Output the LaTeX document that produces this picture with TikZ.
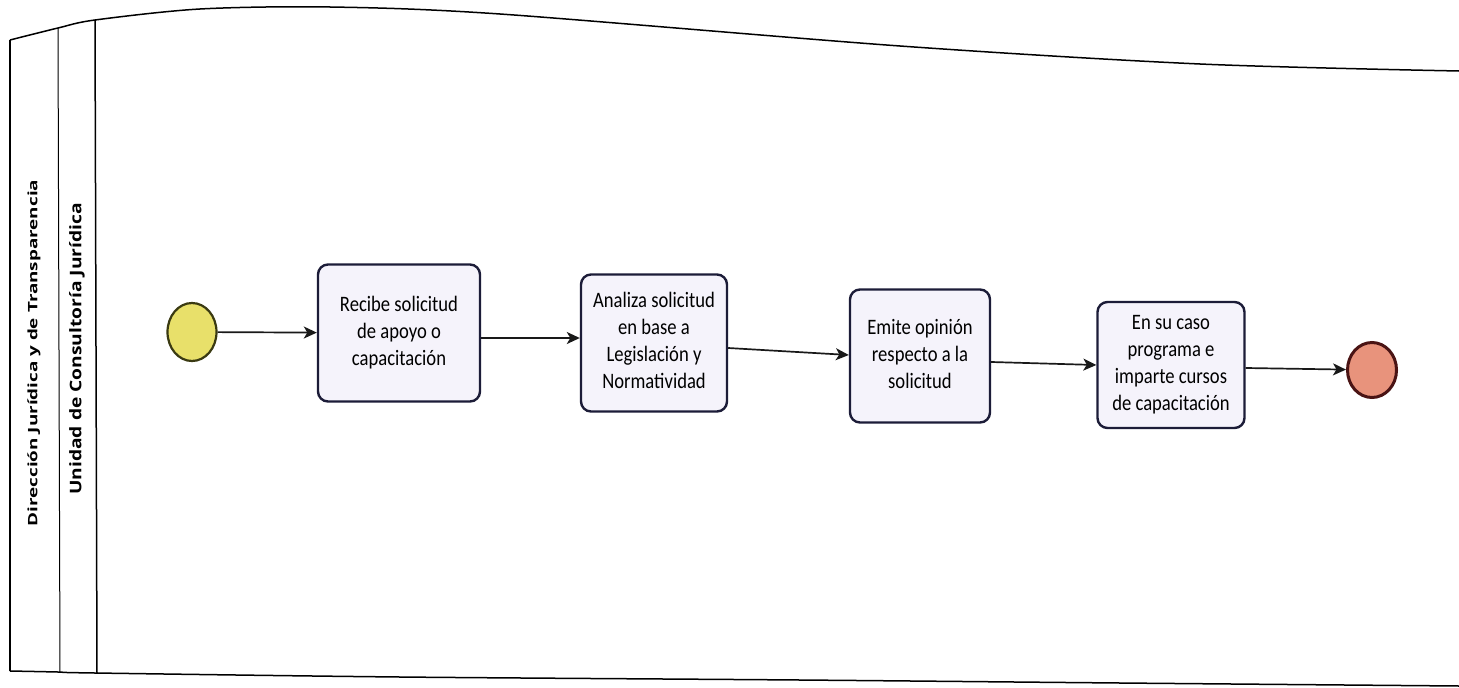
\documentclass[tikz,border=0pt]{standalone}
\usepackage{fontspec}
\setmainfont{Carlito}
\newfontfamily\lanefont{Open Sans}
\usetikzlibrary{arrows.meta,shapes.geometric}

\definecolor{taskfill}{HTML}{F5F3FB}
\definecolor{taskline}{HTML}{1C1C38}
\definecolor{startfill}{HTML}{E8E06A}
\definecolor{startline}{HTML}{3A3A12}
\definecolor{endfill}{HTML}{E8937C}
\definecolor{endline}{HTML}{4A1414}

% task label: centred lines, stretched a little vertically
\newcommand{\tasklabel}[1]{\scalebox{0.98}[1.16]{\begin{tabular}{@{}c@{}}#1\end{tabular}}}

\tikzset{
  task/.style={draw=taskline, fill=taskfill, line width=2.4pt, rounded corners=10pt,
    align=center, inner sep=0pt, font=\fontsize{19}{23.3}\selectfont},
  startev/.style={ellipse, draw=startline, fill=startfill, line width=2.2pt, inner sep=0pt},
  endev/.style={ellipse, draw=endline, fill=endfill, line width=3pt, inner sep=0pt},
  flow/.style={line width=1.7pt, draw=black!90, -{Stealth[length=13pt,width=12pt,inset=3.5pt]}},
  frame/.style={line width=1.5pt, draw=black},
  lanetext/.style={rotate=90, inner sep=0pt}
}

\begin{document}
\begin{tikzpicture}[x=1pt, y=-1pt]
  \useasboundingbox (0,0) rectangle (1459,688);
  \fill[white] (0,0) rectangle (1459,688);

  % pool frame
  \draw[frame] plot[smooth, tension=0.5] coordinates
    {(10,40) (58,28) (95,20) (200,9) (330,7) (500,14) (900,46) (1200,64) (1459,71)};
  \draw[frame] plot[smooth, tension=0.5] coordinates
    {(10,671) (58,672) (95,673) (400,677) (800,680) (1120,683) (1459,686)};
  \draw[frame] (10,40) -- (10,671);
  \draw[line width=1pt] (58,28) -- (60,672);
  \draw[frame] (95,20) -- (97,673);

  % lane labels
  \node[lanetext, font=\lanefont\bfseries\fontsize{13}{15}\selectfont] (pool) at (34,353)
    {\scalebox{1.45}[1]{Dirección Jurídica y de Transparencia}};
  \node[lanetext, font=\lanefont\bfseries\fontsize{16}{18}\selectfont] (lane) at (77,349)
    {\scalebox{1.2}[1]{Unidad de Consultoría Jurídica}};

  % events and tasks
  \node[startev, minimum width=49pt, minimum height=58pt] (start) at (192,332) {};
  \node[task, minimum width=162pt, minimum height=137pt] (t1) at (399,333)
    {\tasklabel{Recibe solicitud\\de apoyo o\\capacitación}};
  \node[task, minimum width=146pt, minimum height=137pt] (t2) at (654,343)
    {\tasklabel{Analiza solicitud\\en base a\\Legislación y\\Normatividad}};
  \node[task, minimum width=140pt, minimum height=133pt] (t3) at (920,356)
    {\tasklabel{Emite opinión\\respecto a la\\solicitud}};
  \node[task, minimum width=147pt, minimum height=126pt] (t4) at (1171,365)
    {\tasklabel{En su caso\\programa e\\imparte cursos\\de capacitación}};
  \node[endev, minimum width=49pt, minimum height=55pt] (end) at (1372,370) {};

  % sequence flows
  \draw[flow] (start) -- (t1);
  \draw[flow] (t1.east |- 0,338) -- (t2.west |- 0,338);
  \draw[flow] (t2.east |- 0,348) -- (t3.west |- 0,355);
  \draw[flow] (t3.east |- 0,362) -- (t4.west |- 0,365);
  \draw[flow] (t4.east |- 0,368) -- (end);
\end{tikzpicture}
\end{document}
